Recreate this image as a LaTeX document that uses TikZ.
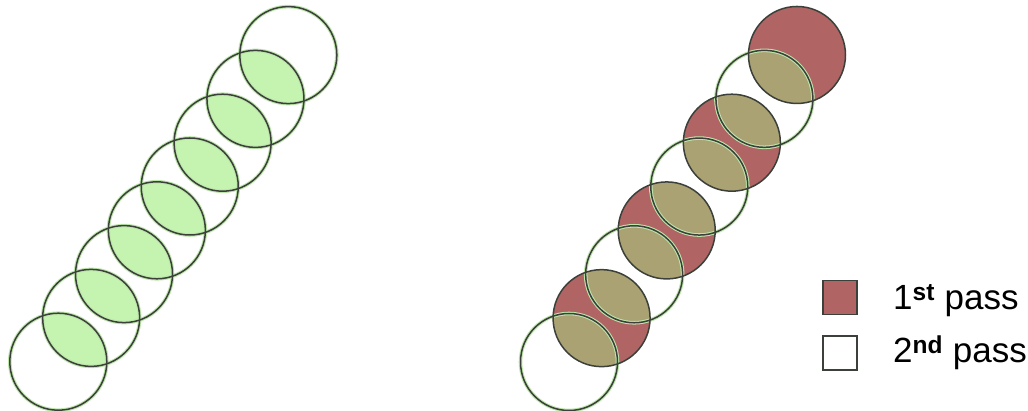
\documentclass[tikz,border=0pt]{standalone}
\usepackage{fontspec}
\setmainfont{Liberation Sans}
\usepackage{xcolor}
\usetikzlibrary{positioning}

\definecolor{passred}{HTML}{B06464}
\definecolor{lapgreen}{HTML}{C4F4AF}
\definecolor{lapolive}{HTML}{AAA273}
\definecolor{rimdark}{HTML}{3C403A}
\definecolor{rimglow}{HTML}{BDE6AB}
\newcommand{\rr}{48.5pt}

\begin{document}
\begin{tikzpicture}[x=1pt, y=-1pt,
  rim/.style={draw=rimdark, line width=1.5pt},
  glow/.style={draw=rimglow, line width=3.6pt},
  keybox/.style={draw=rimdark, line width=1.6pt, minimum size=34pt, inner sep=0pt},
  passtext/.style={font=\fontsize{35}{40}\selectfont, anchor=base west, inner sep=0pt}]
  \useasboundingbox (0,0) rectangle (1028,411);
  % centres of the two rows of circles
  \foreach \i in {0,...,7} {
    \coordinate (a\i) at ({58.3+32.86*\i},{361.7-43.8*\i});
    \coordinate (b\i) at ({569+32.57*\i},{362-43.86*\i});
  }
  % left row: overlaps only
  \foreach \i [evaluate=\i as \j using int(\i+1)] in {0,...,6} {
    \begin{scope}
      \clip (a\i) circle[radius=\rr];
      \fill[lapgreen] (a\j) circle[radius=\rr];
    \end{scope}
  }
  \foreach \i in {0,...,7} \draw[glow] (a\i) circle[radius=\rr];
  \foreach \i in {0,...,7} \draw[rim] (a\i) circle[radius=\rr];
  % right row: 1st pass filled, overlaps
  \foreach \i in {1,3,5,7} \fill[passred] (b\i) circle[radius=\rr];
  \foreach \i [evaluate=\i as \j using int(\i+1)] in {0,...,6} {
    \begin{scope}
      \clip (b\i) circle[radius=\rr];
      \fill[lapolive] (b\j) circle[radius=\rr];
    \end{scope}
  }
  \foreach \i in {0,2,4,6} \draw[glow] (b\i) circle[radius=\rr];
  \foreach \i in {0,...,7} \draw[rim] (b\i) circle[radius=\rr];
  % legend
  \node[keybox, fill=passred] (firstkey) at (840,297.5) {};
  \node[keybox, fill=white, below=20pt of firstkey] (secondkey) {};
  \node[passtext] (firsttext) at (893,310) {1\textsuperscript{\bfseries st} pass};
  \node[passtext] (secondtext) at (893,363) {2\textsuperscript{\bfseries nd} pass};
\end{tikzpicture}
\end{document}
